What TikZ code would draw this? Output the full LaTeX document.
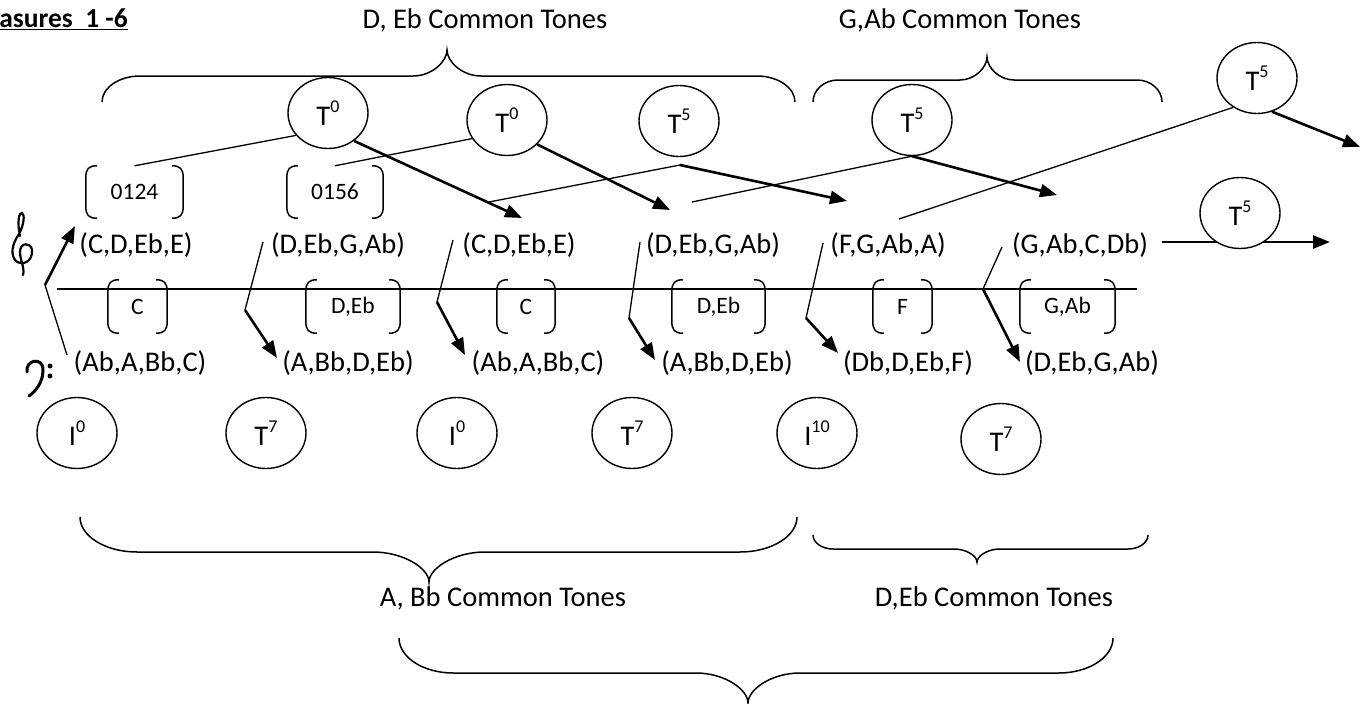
\documentclass[tikz,border=0pt]{standalone}
\usepackage{fontspec}
\setmainfont{Carlito}
\usetikzlibrary{arrows.meta,shapes.geometric}
\newcommand{\mybrace}[8]{%
  \draw[bracestyle] (#1,#4) .. controls (#1,{#4+0.55*(#5-#4)}) and ({#1+0.45*#7},#5) .. ({#1+#7},#5)
    -- ({#3-#8},#5) .. controls ({#3-0.45*#8},#5) and (#3,{#5+0.55*(#6-#5)}) .. (#3,#6)
    .. controls (#3,{#5+0.55*(#6-#5)}) and ({#3+0.45*#8},#5) .. ({#3+#8},#5)
    -- ({#2-#7},#5) .. controls ({#2-0.45*#7},#5) and (#2,{#4+0.55*(#5-#4)}) .. (#2,#4);}
\newcommand{\drawbrk}[1]{%
  \draw[brkstyle] ([xshift=11pt]#1.north west) .. controls ([xshift=3pt]#1.north west) and ([yshift=-3pt]#1.north west) .. ([yshift=-12pt]#1.north west) -- ([yshift=12pt]#1.south west) .. controls ([yshift=3pt]#1.south west) and ([xshift=3pt]#1.south west) .. ([xshift=11pt]#1.south west);
  \draw[brkstyle] ([xshift=-11pt]#1.north east) .. controls ([xshift=-3pt]#1.north east) and ([yshift=-3pt]#1.north east) .. ([yshift=-12pt]#1.north east) -- ([yshift=12pt]#1.south east) .. controls ([yshift=3pt]#1.south east) and ([xshift=-3pt]#1.south east) .. ([xshift=-11pt]#1.south east);}
\newcommand{\opsup}[2]{#1\raisebox{13pt}{\fontsize{18}{18}\selectfont #2}}
\begin{document}
\begin{tikzpicture}[x=1pt,y=-1pt,
  lbl/.style={inner sep=0pt, font=\fontsize{28.5}{34}\selectfont},
  ell/.style={draw, ellipse, line width=1.4pt, minimum width=80pt, minimum height=71pt, inner sep=0pt, font=\fontsize{28.5}{34}\selectfont},
  brkbox/.style={rectangle, inner sep=0pt, minimum height=53pt, font=\fontsize{23.5}{28}\selectfont},
  brkstyle/.style={line width=1.5pt},
  bracestyle/.style={line width=1.5pt},
  lnA/.style={line width=1.3pt},
  arw/.style={line width=2.6pt, -{Triangle[length=17pt,width=13pt]}},
  staff/.style={line width=1.8pt},
  clef/.style={line width=2.2pt, line cap=round}]
\useasboundingbox (0,0) rectangle (1361,704);

% title and headings
\node[lbl, anchor=east, font=\fontsize{27.5}{33}\selectfont\bfseries] (title) at (128,19) {\underline{asures\ \ 1 -6}};
\node[lbl] (h1) at (485,20) {D, Eb Common Tones};
\node[lbl] (h2) at (960,20) {G,Ab Common Tones};
\node[lbl] (h3) at (503,598) {A, Bb Common Tones};
\node[lbl] (h4) at (994,598) {D,Eb Common Tones};

% braces
\mybrace{102}{795}{447}{102}{76}{50}{38}{34}
\mybrace{813}{1162}{987}{102}{80}{57}{25}{27}
\mybrace{80}{797}{429}{517}{552}{582}{57}{56}
\mybrace{813}{1148}{977}{535}{549}{562}{20}{23}
\mybrace{399}{1113}{748}{638}{673}{703}{54}{52}

% staff line and clefs
\coordinate (s0) at (57,289);
\coordinate (s1) at (1137,289);
\draw[staff] (s0) -- (s1);
\draw[clef] (20,236) .. controls (17,222) and (19,212) .. (22,213) .. controls (25,214) and (24,225) .. (19,234) .. controls (12,244) and (10,255) .. (16,261) .. controls (22,266) and (33,262) .. (32,250) .. controls (31,242) and (20,242) .. (20,252) .. controls (20,260) and (25,268) .. (23,275);
\draw[line width=3pt, line cap=round] (27,372) .. controls (25,360) and (43,356) .. (43,370) .. controls (43,382) and (36,391) .. (29,396);
\fill (50,366) circle (2.5);
\fill (50,376) circle (2.5);

% chord labels
\node[lbl] (u1) at (136,245) {(C,D,Eb,E)};
\node[lbl] (u2) at (338,245) {(D,Eb,G,Ab)};
\node[lbl] (u3) at (519,245) {(C,D,Eb,E)};
\node[lbl] (u4) at (713,245) {(D,Eb,G,Ab)};
\node[lbl] (u5) at (888,245) {(F,G,Ab,A)};
\node[lbl] (u6) at (1080,245) {(G,Ab,C,Db)};
\node[lbl] (l1) at (140,363) {(Ab,A,Bb,C)};
\node[lbl] (l2) at (348,363) {(A,Bb,D,Eb)};
\node[lbl] (l3) at (538,363) {(Ab,A,Bb,C)};
\node[lbl] (l4) at (727,363) {(A,Bb,D,Eb)};
\node[lbl] (l5) at (908,363) {(Db,D,Eb,F)};
\node[lbl] (l6) at (1092,363) {(D,Eb,G,Ab)};

% bracketed labels
\node[brkbox, minimum width=97pt, minimum height=52pt] (b0124) at (134.5,192) {0124};
\node[brkbox, minimum width=96pt, minimum height=52pt] (b0156) at (335,192) {0156};
\node[brkbox, minimum width=59pt] (bC1) at (137.5,306.5) {C};
\node[brkbox, minimum width=94pt] (bDE1) at (353,306.5) {D,Eb};
\node[brkbox, minimum width=58pt] (bC2) at (526,306.5) {C};
\node[brkbox, minimum width=93pt] (bDE2) at (718.5,306.5) {D,Eb};
\node[brkbox, minimum width=59pt] (bF) at (902.5,306.5) {F};
\node[brkbox, minimum width=95pt] (bGA) at (1067.5,306.5) {G,Ab};
\drawbrk{b0124}
\drawbrk{b0156}
\drawbrk{bC1}
\drawbrk{bDE1}
\drawbrk{bC2}
\drawbrk{bDE2}
\drawbrk{bF}
\drawbrk{bGA}

% arrow passing through the last T5 (drawn first, covered by the ellipse)
\coordinate (p8a) at (1162,242);
\coordinate (e8) at (1330,242);
\draw[arw] (p8a) -- (e8);

% operation ellipses
\node[ell] (t01) at (328,113) {\opsup{T}{0}};
\node[ell] (t02) at (507,120) {\opsup{T}{0}};
\node[ell] (t53) at (679,121) {\opsup{T}{5}};
\node[ell] (t54) at (912,120) {\opsup{T}{5}};
\node[ell] (t55) at (1257,78) {\opsup{T}{5}};
\node[ell, fill=white] (t56) at (1240,213) {\opsup{T}{5}};
\node[ell] (i01) at (77,433) {\opsup{I}{0}};
\node[ell] (t71) at (266,433) {\opsup{T}{7}};
\node[ell] (i02) at (457,433) {\opsup{I}{0}};
\node[ell] (t72) at (632,433) {\opsup{T}{7}};
\node[ell] (i10) at (817,433) {\opsup{I}{10}};
\node[ell] (t73) at (1001,439) {\opsup{T}{7}};

% upper connectors
\draw[lnA] (t01.215) -- (b0124.north);
\draw[lnA] (t02.208) -- (b0156.north);
\coordinate (e3) at (522,218);
\draw[arw] (t01.313) -- (e3);
\coordinate (e4) at (670,210);
\draw[arw] (t02.321) -- (e4);
\coordinate (p5a) at (489,202);
\coordinate (p5v) at (680,165);
\coordinate (e5) at (847,201);
\draw[lnA] (p5a) -- (p5v);
\draw[arw] (p5v) -- (e5);
\coordinate (p6a) at (692,202);
\coordinate (e6) at (1057,195);
\draw[lnA] (p6a) -- (t54.south);
\draw[arw] (t54.south) -- (e6);
\coordinate (p7a) at (899,219);
\coordinate (e7) at (1360,147);
\draw[lnA] (p7a) -- (t55.231);
\draw[arw] (t55.294) -- (e7);

% staff zigzags
\coordinate (z1a) at (67,355);  \coordinate (z1v) at (45,285);  \coordinate (z1e) at (75,226);
\coordinate (z2a) at (263,242); \coordinate (z2v) at (245,310); \coordinate (z2e) at (277,358);
\coordinate (z3a) at (453,240); \coordinate (z3v) at (437,302); \coordinate (z3e) at (465,355);
\coordinate (z4a) at (640,242); \coordinate (z4v) at (629,318); \coordinate (z4e) at (655,360);
\coordinate (z5a) at (823,243); \coordinate (z5v) at (806,318); \coordinate (z5e) at (838,353);
\coordinate (z6a) at (1002,247); \coordinate (z6v) at (983,289); \coordinate (z6e) at (1020,362);
\foreach \k in {1,...,6} {
  \draw[lnA] (z\k a) -- (z\k v);
  \draw[arw] (z\k v) -- (z\k e);
}
\end{tikzpicture}
\end{document}
